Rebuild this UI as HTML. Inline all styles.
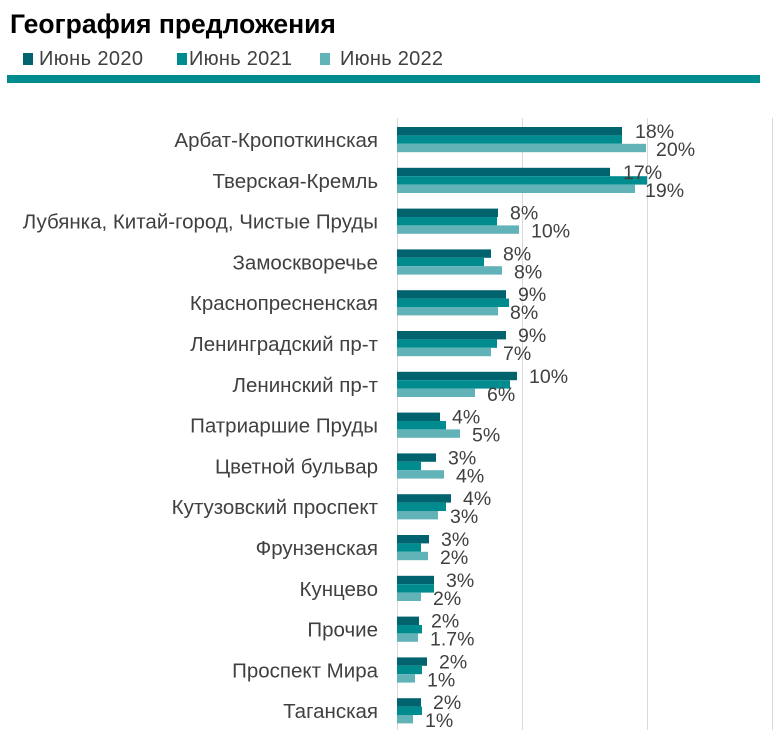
<!DOCTYPE html>
<html><head><meta charset="utf-8"><style>
html,body{margin:0;padding:0;background:#fff;}
svg{display:block;font-family:"Liberation Sans",sans-serif;}
</style></head><body>
<svg width="784" height="752" xmlns="http://www.w3.org/2000/svg">
<text x="10" y="33" font-size="26.5" font-weight="bold" fill="#000">География предложения</text>
<rect x="23" y="53" width="10" height="12" fill="#00636e"/>
<text x="39" y="65" font-size="20" fill="#404040" textLength="104">Июнь 2020</text>
<rect x="177" y="53" width="10" height="12" fill="#008b8f"/>
<text x="189" y="65" font-size="20" fill="#404040" textLength="103">Июнь 2021</text>
<rect x="320" y="53" width="10" height="12" fill="#62b3b8"/>
<text x="340" y="65" font-size="20" fill="#404040" textLength="103">Июнь 2022</text>
<rect x="7" y="75" width="753" height="8" fill="#008b8f"/>
<g stroke="#d9d9d9" stroke-width="1">
<line x1="397.5" y1="118" x2="397.5" y2="730"/>
<line x1="522.5" y1="118" x2="522.5" y2="730"/>
<line x1="647.5" y1="118" x2="647.5" y2="730"/>
<line x1="772.5" y1="118" x2="772.5" y2="730"/>
</g>
<g font-size="20.5" text-anchor="end" fill="#404040">
<text x="378" y="147">Арбат-Кропоткинская</text>
<text x="378" y="187.8">Тверская-Кремль</text>
<text x="378" y="228.6">Лубянка, Китай-город, Чистые Пруды</text>
<text x="378" y="269.4">Замоскворечье</text>
<text x="378" y="310.2">Краснопресненская</text>
<text x="378" y="351">Ленинградский пр-т</text>
<text x="378" y="391.8">Ленинский пр-т</text>
<text x="378" y="432.6">Патриаршие Пруды</text>
<text x="378" y="473.4">Цветной бульвар</text>
<text x="378" y="514.2">Кутузовский проспект</text>
<text x="378" y="555">Фрунзенская</text>
<text x="378" y="595.8">Кунцево</text>
<text x="378" y="636.6">Прочие</text>
<text x="378" y="677.4">Проспект Мира</text>
<text x="378" y="718.2">Таганская</text>
</g>
<g>
<rect x="397" y="127" width="225" height="8.4" fill="#00636e"/><rect x="397" y="135.4" width="225" height="8.4" fill="#008b8f"/><rect x="397" y="143.8" width="249" height="8.4" fill="#62b3b8"/>
<rect x="397" y="167.8" width="213" height="8.4" fill="#00636e"/><rect x="397" y="176.2" width="250" height="8.4" fill="#008b8f"/><rect x="397" y="184.6" width="238" height="8.4" fill="#62b3b8"/>
<rect x="397" y="208.6" width="101" height="8.4" fill="#00636e"/><rect x="397" y="217" width="100" height="8.4" fill="#008b8f"/><rect x="397" y="225.4" width="122" height="8.4" fill="#62b3b8"/>
<rect x="397" y="249.4" width="94" height="8.4" fill="#00636e"/><rect x="397" y="257.8" width="87" height="8.4" fill="#008b8f"/><rect x="397" y="266.2" width="105" height="8.4" fill="#62b3b8"/>
<rect x="397" y="290.2" width="109" height="8.4" fill="#00636e"/><rect x="397" y="298.6" width="112" height="8.4" fill="#008b8f"/><rect x="397" y="307" width="101" height="8.4" fill="#62b3b8"/>
<rect x="397" y="331" width="109" height="8.4" fill="#00636e"/><rect x="397" y="339.4" width="100" height="8.4" fill="#008b8f"/><rect x="397" y="347.8" width="94" height="8.4" fill="#62b3b8"/>
<rect x="397" y="371.8" width="120" height="8.4" fill="#00636e"/><rect x="397" y="380.2" width="113" height="8.4" fill="#008b8f"/><rect x="397" y="388.6" width="78" height="8.4" fill="#62b3b8"/>
<rect x="397" y="412.6" width="43" height="8.4" fill="#00636e"/><rect x="397" y="421" width="49" height="8.4" fill="#008b8f"/><rect x="397" y="429.4" width="63" height="8.4" fill="#62b3b8"/>
<rect x="397" y="453.4" width="39" height="8.4" fill="#00636e"/><rect x="397" y="461.8" width="24" height="8.4" fill="#008b8f"/><rect x="397" y="470.2" width="47" height="8.4" fill="#62b3b8"/>
<rect x="397" y="494.2" width="54" height="8.4" fill="#00636e"/><rect x="397" y="502.6" width="49" height="8.4" fill="#008b8f"/><rect x="397" y="511" width="41" height="8.4" fill="#62b3b8"/>
<rect x="397" y="535" width="32" height="8.4" fill="#00636e"/><rect x="397" y="543.4" width="24" height="8.4" fill="#008b8f"/><rect x="397" y="551.8" width="31" height="8.4" fill="#62b3b8"/>
<rect x="397" y="575.8" width="37" height="8.4" fill="#00636e"/><rect x="397" y="584.2" width="37" height="8.4" fill="#008b8f"/><rect x="397" y="592.6" width="24" height="8.4" fill="#62b3b8"/>
<rect x="397" y="616.6" width="22" height="8.4" fill="#00636e"/><rect x="397" y="625" width="25" height="8.4" fill="#008b8f"/><rect x="397" y="633.4" width="21" height="8.4" fill="#62b3b8"/>
<rect x="397" y="657.4" width="30" height="8.4" fill="#00636e"/><rect x="397" y="665.8" width="25" height="8.4" fill="#008b8f"/><rect x="397" y="674.2" width="18" height="8.4" fill="#62b3b8"/>
<rect x="397" y="698.2" width="24" height="8.4" fill="#00636e"/><rect x="397" y="706.6" width="25" height="8.4" fill="#008b8f"/><rect x="397" y="715" width="16" height="8.4" fill="#62b3b8"/>
</g>
<g font-size="19.5" fill="#404040">
<text x="635" y="138">18%</text><text x="656" y="156">20%</text>
<text x="623" y="178.8">17%</text><text x="645" y="196.8">19%</text>
<text x="510" y="219.6">8%</text><text x="531" y="237.6">10%</text>
<text x="503" y="260.4">8%</text><text x="514" y="278.4">8%</text>
<text x="518" y="301.2">9%</text><text x="510" y="319.2">8%</text>
<text x="518" y="342">9%</text><text x="503" y="360">7%</text>
<text x="529" y="382.8">10%</text><text x="487" y="400.8">6%</text>
<text x="452" y="423.6">4%</text><text x="472" y="441.6">5%</text>
<text x="448" y="464.4">3%</text><text x="456" y="482.4">4%</text>
<text x="463" y="505.2">4%</text><text x="450" y="523.2">3%</text>
<text x="441" y="546">3%</text><text x="440" y="564">2%</text>
<text x="446" y="586.8">3%</text><text x="433" y="604.8">2%</text>
<text x="431" y="627.6">2%</text><text x="430" y="645.6">1.7%</text>
<text x="439" y="668.4">2%</text><text x="427" y="686.4">1%</text>
<text x="433" y="709.2">2%</text><text x="425" y="727.2">1%</text>
</g>
</svg>
</body></html>
